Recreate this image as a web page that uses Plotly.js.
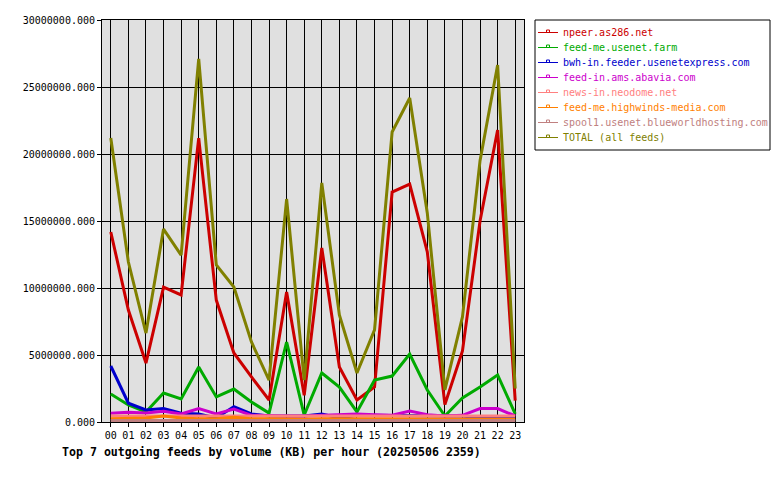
<!DOCTYPE html>
<html>
<head>
<meta charset="utf-8">
<script src="https://cdn.plot.ly/plotly-3.0.1.min.js"></script>
<style>
html,body{margin:0;padding:0;background:#fff;}
#chart{width:780px;height:480px;}
</style>
</head>
<body>
<div id="chart"></div>
<script>
var hours = ['00','01','02','03','04','05','06','07','08','09','10','11','12','13','14','15','16','17','18','19','20','21','22','23'];

var seriesNames = [
  'npeer.as286.net',
  'feed-me.usenet.farm',
  'bwh-in.feeder.usenetexpress.com',
  'feed-in.ams.abavia.com',
  'news-in.neodome.net',
  'feed-me.highwinds-media.com',
  'spool1.usenet.blueworldhosting.com',
  'TOTAL (all feeds)'
];
var seriesColors = ['#cc0000','#00aa00','#0000cc','#cc00cc','#ff8080','#ff8000','#c08080','#808000'];

var npeer = [14180000, 8360000, 4400000, 10070000, 9480000, 21190000, 9100000, 5150000, 3360000, 1640000, 9700000, 2000000, 12990000, 4100000, 1640000, 2610000, 17160000, 17760000, 12700000, 1300000, 5300000, 15000000, 21790000, 1600000];
var usenetFarm = [2090000, 1270000, 750000, 2160000, 1720000, 4100000, 1870000, 2460000, 1490000, 670000, 5970000, 520000, 3660000, 2610000, 750000, 3130000, 3430000, 5070000, 2390000, 450000, 1790000, 2610000, 3510000, 600000];
var usenetExpress = [4180000, 1400000, 900000, 1000000, 650000, 600000, 300000, 1150000, 600000, 450000, 450000, 450000, 600000, 300000, 500000, 500000, 450000, 500000, 500000, 450000, 450000, 300000, 300000, 400000];
var abavia = [650000, 720000, 680000, 800000, 600000, 1000000, 600000, 970000, 500000, 450000, 450000, 450000, 500000, 600000, 600000, 550000, 500000, 820000, 550000, 450000, 500000, 1000000, 1000000, 450000];
var neodome = [450000, 450000, 450000, 500000, 450000, 450000, 450000, 450000, 450000, 450000, 450000, 500000, 500000, 450000, 450000, 450000, 450000, 450000, 450000, 450000, 450000, 450000, 450000, 450000];
var highwinds = [250000, 250000, 300000, 450000, 300000, 250000, 250000, 350000, 250000, 250000, 200000, 200000, 250000, 250000, 250000, 250000, 200000, 200000, 200000, 200000, 200000, 200000, 200000, 200000];
var blueworld = [120000, 120000, 120000, 130000, 120000, 120000, 120000, 130000, 120000, 120000, 120000, 120000, 120000, 120000, 120000, 120000, 120000, 120000, 120000, 120000, 120000, 120000, 120000, 120000];
var total = [21190000, 11940000, 6640000, 14400000, 12460000, 27090000, 11720000, 10070000, 5970000, 3130000, 16640000, 3130000, 17840000, 7990000, 3660000, 6870000, 21640000, 24180000, 15600000, 2390000, 7840000, 19500000, 26640000, 2500000];

var allSeries = [npeer, usenetFarm, usenetExpress, abavia, neodome, highwinds, blueworld, total];

var MONO = 'DejaVu Sans Mono, Liberation Mono, monospace';

var traces = allSeries.map(function(vals, i){
  return {
    type: 'scatter', mode: 'lines', x: hours, y: vals, name: seriesNames[i],
    line: {color: seriesColors[i], width: 3}, showlegend: false, hoverinfo: 'x+y+name'
  };
});

// plot area in pixels
var L = 102, R = 524, T = 20, B = 422;
function px(x){ return (x - L) / (R - L); }
function py(y){ return (B - y) / (B - T); }

var shapes = [{
  type: 'rect', xref: 'paper', yref: 'paper',
  x0: px(535), x1: px(770), y0: py(20), y1: py(150),
  line: {color: '#000', width: 1}, fillcolor: '#fff', layer: 'above'
}];
var annotations = [];
seriesNames.forEach(function(n, i){
  var yy = 32.5 + 15 * i;
  shapes.push({type: 'line', xref: 'paper', yref: 'paper', x0: px(538), x1: px(558), y0: py(yy), y1: py(yy),
    line: {color: seriesColors[i], width: 1}, layer: 'above'});
  shapes.push({type: 'rect', xref: 'paper', yref: 'paper', x0: px(546.5), x1: px(549.5), y0: py(yy), y1: py(yy - 2.5),
    line: {color: seriesColors[i], width: 1}, fillcolor: 'rgba(0,0,0,0)', layer: 'above'});
  annotations.push({xref: 'paper', yref: 'paper', x: px(561), y: py(yy), xanchor: 'left', yanchor: 'middle',
    text: n, showarrow: false, font: {family: MONO, size: 10, color: seriesColors[i]}});
});

var layout = {
  width: 780, height: 480,
  margin: {l: L, r: 780 - R, t: T, b: 480 - B, autoexpand: false},
  paper_bgcolor: '#ffffff', plot_bgcolor: '#e0e0e0',
  showlegend: false,
  title: {
    text: '<b>Top 7 outgoing feeds by volume (KB) per hour (20250506 2359)</b>',
    x: 62 / 780, xref: 'container', xanchor: 'left',
    y: (480 - 452) / 480, yref: 'container', yanchor: 'middle',
    font: {family: MONO, size: 11.6, color: '#000'}
  },
  xaxis: {
    type: 'category', range: [-0.5, 23.5], fixedrange: true,
    showgrid: true, gridcolor: '#000', gridwidth: 1,
    showline: true, linecolor: '#000', linewidth: 1, mirror: true,
    ticks: 'outside', ticklen: 4, tickcolor: '#000', tickwidth: 1,
    tickfont: {family: MONO, size: 10, color: '#000'}
  },
  yaxis: {
    range: [0, 30000000], dtick: 5000000, tick0: 0, tickformat: '.3f', fixedrange: true,
    showgrid: true, gridcolor: '#000', gridwidth: 1, zeroline: false,
    showline: true, linecolor: '#000', linewidth: 1, mirror: true,
    ticks: 'outside', ticklen: 4, tickcolor: '#000', tickwidth: 1,
    tickfont: {family: MONO, size: 10, color: '#000'}
  },
  shapes: shapes,
  annotations: annotations
};

Plotly.newPlot('chart', traces, layout, {staticPlot: true, displayModeBar: false});
</script>
</body>
</html>
